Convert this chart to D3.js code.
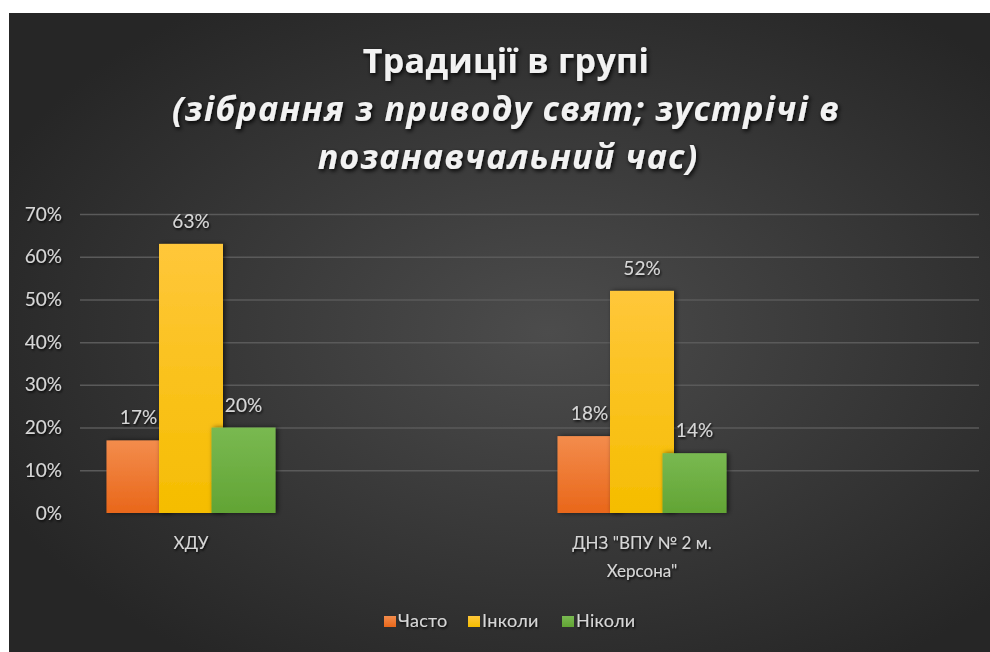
<!DOCTYPE html>
<html>
<head>
<meta charset="utf-8">
<script src="https://cdn.jsdelivr.net/npm/d3@7"></script>
<style>
  html, body { margin: 0; padding: 0; background: #ffffff; }
  svg { display: block; }
</style>
</head>
<body>
<svg id="chart" width="990" height="652"></svg>
<script>
// ---- data ----
const categories = ["ХДУ", "ДНЗ \"ВПУ № 2 м. Херсона\""];
const categoryLines = [["ХДУ"], ["ДНЗ \"ВПУ № 2 м.", "Херсона\""]];
const seriesNames = ["Часто", "Інколи", "Ніколи"];
const seriesValues = [
  [0.17, 0.18],  // Часто
  [0.63, 0.52],  // Інколи
  [0.20, 0.14]   // Ніколи
];
const yTicks = [0, 0.1, 0.2, 0.3, 0.4, 0.5, 0.6, 0.7];
const titleLines = [
  "Традиції в групі",
  "(зібрання з приводу свят; зустрічі в",
  "позанавчальний час)"
];

// ---- layout ----
const W = 990, H = 652;
const panel = { x: 9, y: 13, w: 981, h: 639 };
const plot = { left: 80, right: 979, top: 214, bottom: 513 };
const barW = 64, barStep = 52.5;
const seriesColors = [
  ["#f38c4c", "#e9671a"],
  ["#ffc73a", "#f5bd00"],
  ["#79b951", "#62a434"]
];
const titleSpacing = [0.3, 1.3, 1.15];
const titleCenter = [506, 506, 508];

const svg = d3.select("#chart");
const defs = svg.append("defs");

// panel background: soft radial light in the middle
const bg = defs.append("radialGradient").attr("id", "bg")
  .attr("cx", "55%").attr("cy", "50%").attr("r", "62%");
bg.append("stop").attr("offset", "0%").attr("stop-color", "#4c4c4c");
bg.append("stop").attr("offset", "100%").attr("stop-color", "#262626");

seriesColors.forEach((c, i) => {
  const g = defs.append("linearGradient").attr("id", "bar" + i)
    .attr("x1", 0).attr("y1", 0).attr("x2", 0).attr("y2", 1);
  g.append("stop").attr("offset", "0%").attr("stop-color", c[0]);
  g.append("stop").attr("offset", "100%").attr("stop-color", c[1]);
});

function shadow(id, dx, dy, sd, op) {
  const f = defs.append("filter").attr("id", id)
    .attr("x", "-20%").attr("y", "-30%").attr("width", "140%").attr("height", "160%");
  f.append("feDropShadow").attr("dx", dx).attr("dy", dy)
    .attr("stdDeviation", sd).attr("flood-color", "#000").attr("flood-opacity", op);
}
shadow("txtShadow", 1, 1.5, 1.2, 0.9);
shadow("titleShadow", 1.5, 2, 2, 0.95);
shadow("barShadow", 2, 0, 2.5, 0.6);

svg.append("rect")
  .attr("x", panel.x).attr("y", panel.y)
  .attr("width", panel.w).attr("height", panel.h)
  .attr("fill", "url(#bg)");

// ---- scales ----
const y = d3.scaleLinear().domain([0, 0.7]).range([plot.bottom, plot.top]);
const x = d3.scalePoint().domain(categories)
  .range([plot.left + 111, plot.left + 562]);
const seriesOffset = d3.scaleLinear().domain([0, 2])
  .range([-barStep, barStep]);

// ---- gridlines ----
const grid = svg.append("g")
  .attr("transform", `translate(${plot.left},0)`)
  .call(d3.axisLeft(y).tickValues(yTicks.slice(1))
    .tickSize(-(plot.right - plot.left)).tickFormat(""));
grid.select(".domain").remove();
grid.selectAll(".tick line").attr("stroke", "#5a5a5a").attr("stroke-width", 1.5);

// ---- y tick labels ----
const yAxis = svg.append("g")
  .attr("transform", `translate(${plot.left - 18},0)`)
  .call(d3.axisLeft(y).tickValues(yTicks).tickSize(0).tickPadding(0)
    .tickFormat(d3.format(".0%")));
yAxis.select(".domain").remove();
yAxis.selectAll("text")
  .attr("font-family", "Lato, 'Open Sans', sans-serif")
  .attr("font-size", 19)
  .attr("fill", "#d6d6d6")
  .attr("filter", "url(#txtShadow)");

// ---- bars ----
const bars = [];
seriesValues.forEach((vals, s) => {
  vals.forEach((v, c) => bars.push({ s, c, v }));
});

svg.append("g").selectAll("rect").data(bars).join("rect")
  .attr("x", d => x(categories[d.c]) + seriesOffset(d.s) - barW / 2)
  .attr("y", d => y(d.v))
  .attr("width", barW)
  .attr("height", d => y(0) - y(d.v))
  .attr("fill", d => `url(#bar${d.s})`)
  .attr("filter", "url(#barShadow)");

// ---- zero axis line ----
svg.append("line")
  .attr("x1", plot.left).attr("x2", plot.right)
  .attr("y1", y(0)).attr("y2", y(0))
  .attr("stroke", "#c4c4c4").attr("stroke-width", 2.5)
  .attr("filter", "url(#txtShadow)");

// ---- data labels ----
svg.append("g").selectAll("text").data(bars).join("text")
  .attr("x", d => x(categories[d.c]) + seriesOffset(d.s))
  .attr("y", d => y(d.v) - 16)
  .attr("text-anchor", "middle")
  .attr("font-family", "Lato, 'Open Sans', sans-serif")
  .attr("font-size", 19)
  .attr("fill", "#d6d6d6")
  .attr("filter", "url(#txtShadow)")
  .text(d => d3.format(".0%")(d.v));

// ---- category labels ----
const catG = svg.append("g").selectAll("text").data(categories).join("text")
  .attr("x", d => x(d))
  .attr("y", 549)
  .attr("text-anchor", "middle")
  .attr("font-family", "Lato, 'Open Sans', sans-serif")
  .attr("font-size", 17)
  .attr("fill", "#d6d6d6")
  .attr("filter", "url(#txtShadow)");
catG.each(function(d, i) {
  d3.select(this).selectAll("tspan").data(categoryLines[i]).join("tspan")
    .attr("x", x(d))
    .attr("dy", (t, j) => j === 0 ? 0 : 28)
    .text(t => t);
});

// ---- title ----
svg.append("g").selectAll("text").data(titleLines).join("text")
  .attr("x", (d, i) => titleCenter[i])
  .attr("y", (d, i) => 73 + i * 48)
  .attr("text-anchor", "middle")
  .attr("font-family", "'Open Sans', sans-serif")
  .attr("font-weight", "bold")
  .attr("font-style", (d, i) => i === 0 ? "normal" : "italic")
  .attr("font-size", 34)
  .attr("letter-spacing", (d, i) => titleSpacing[i])
  .attr("fill", "#f2f2f2")
  .attr("filter", "url(#titleShadow)")
  .text(d => d);

// ---- legend ----
const legendX = [384, 468, 562];
const legend = svg.append("g").selectAll("g").data(seriesNames).join("g")
  .attr("transform", (d, i) => `translate(${legendX[i]},616)`);
legend.append("rect")
  .attr("width", 12).attr("height", 11)
  .attr("fill", (d, i) => `url(#bar${i})`);
legend.append("text")
  .attr("x", 14).attr("y", 11)
  .attr("font-family", "Lato, 'Open Sans', sans-serif")
  .attr("font-size", 18)
  .attr("letter-spacing", 0.3)
  .attr("fill", "#d6d6d6")
  .attr("filter", "url(#txtShadow)")
  .text(d => d);
</script>
</body>
</html>
